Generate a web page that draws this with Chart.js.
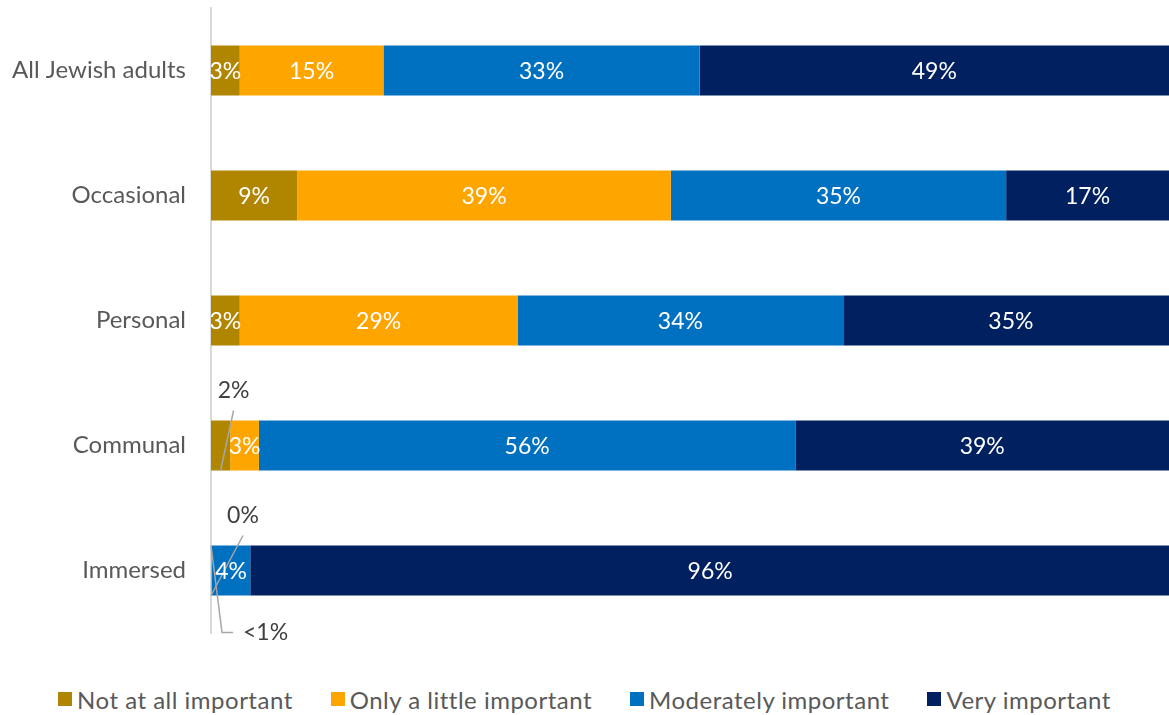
<!DOCTYPE html>
<html>
<head>
<meta charset="utf-8">
<script src="https://cdn.jsdelivr.net/npm/chart.js@4.4.1/dist/chart.umd.min.js"></script>
<style>
  body { margin: 0; background: #fff; }
  #wrap { position: relative; width: 1169px; height: 715px; }
  #chart { position: absolute; left: 0; top: 0; }
  #legend {
    position: absolute; left: 0; top: 685px; width: 1169px; height: 28px;
    display: flex; justify-content: center; align-items: center;
    font-family: Lato, sans-serif; font-size: 24px; letter-spacing: 0.5px; color: #595959;
  }
  .item { display: flex; align-items: center; margin: 0 19px; }
  .swatch { width: 14px; height: 14px; margin-right: 5px; }
</style>
</head>
<body>
<div id="wrap">
  <canvas id="chart" width="1169" height="650"></canvas>
  <div id="legend"></div>
</div>
<script>
const groups = ["All Jewish adults", "Occasional", "Personal", "Communal", "Immersed"];
const seriesNames = ["Not at all important", "Only a little important", "Moderately important", "Very important"];
const notAtAll   = [3, 9, 3, 2, 0];
const onlyLittle = [15, 39, 29, 3, 0.1];
const moderately = [33, 35, 34, 56, 4];
const veryImp    = [49, 17, 35, 39, 96];
const colors = ["#B08500", "#FFA500", "#0070C0", "#002060"];

const FONT = "Lato, sans-serif";

function pctText(v) {
  if (v > 0 && v < 1) return "<1%";
  return Math.round(v) + "%";
}

// small segments get a grey label placed outside with a leader line
// key: datasetIndex-rowIndex
const callouts = {
  "0-3": { from: "bottom", dx: 13 },
  "0-4": { from: "bottomLeft", dx: 32 },
  "1-4": { from: "topLeft", down: true }
};

const labelPlugin = {
  id: "segLabels",
  afterDatasetsDraw(chart) {
    const ctx = chart.ctx;
    ctx.save();
    ctx.font = "23px " + FONT;
    ctx.textBaseline = "middle";
    chart.data.datasets.forEach((ds, i) => {
      const meta = chart.getDatasetMeta(i);
      meta.data.forEach((el, j) => {
        const v = ds.data[j];
        const text = pctText(v);
        const half = el.height / 2;
        const left = Math.min(el.x, el.base);
        const c = callouts[i + "-" + j];
        if (!c) {
          ctx.fillStyle = "#ffffff";
          ctx.textAlign = "center";
          ctx.fillText(text, (el.x + el.base) / 2, el.y + 1);
          return;
        }
        ctx.strokeStyle = "#A6A6A6";
        ctx.lineWidth = 1.5;
        ctx.fillStyle = "#404040";
        ctx.beginPath();
        if (c.down) {
          const sx = left, sy = el.y - half;
          const ey = el.y + half + 37;
          ctx.moveTo(sx, sy);
          ctx.lineTo(sx + 11, ey);
          ctx.lineTo(sx + 22, ey);
          ctx.stroke();
          ctx.textAlign = "left";
          ctx.fillText(text, sx + 32, ey);
        } else {
          const sx = c.from === "bottom" ? (el.x + el.base) / 2 : left;
          const sy = el.y + half;
          const ex = sx + c.dx, ey = el.y - half - 10;
          ctx.moveTo(sx, sy);
          ctx.lineTo(ex, ey);
          ctx.stroke();
          ctx.textAlign = "center";
          ctx.fillText(text, ex, ey - 20);
        }
      });
    });
    ctx.restore();
  }
};

const seriesData = [notAtAll, onlyLittle, moderately, veryImp];

new Chart(document.getElementById("chart"), {
  type: "bar",
  data: {
    labels: groups,
    datasets: seriesNames.map((name, i) => ({
      label: name,
      data: seriesData[i],
      backgroundColor: colors[i],
      borderWidth: 0,
      categoryPercentage: 1,
      barPercentage: 0.4
    }))
  },
  options: {
    indexAxis: "y",
    responsive: false,
    animation: false,
    layout: { padding: { top: 8, bottom: 17, left: 0, right: 0 } },
    plugins: {
      legend: { display: false },
      tooltip: { enabled: false }
    },
    scales: {
      x: { stacked: true, min: 0, max: 100, display: false },
      y: {
        stacked: true,
        grid: { display: false, drawTicks: false },
        border: { display: true, color: "#D9D9D9", width: 2 },
        ticks: { color: "#595959", font: { family: FONT, size: 24 }, padding: 25 },
        afterFit(scale) {
          scale.width = 211;
          scale.paddingTop = 0;
          scale.paddingBottom = 0;
        }
      }
    }
  },
  plugins: [labelPlugin]
});

// legend row under the chart
const legend = document.getElementById("legend");
seriesNames.forEach((name, i) => {
  const item = document.createElement("div");
  item.className = "item";
  const sw = document.createElement("span");
  sw.className = "swatch";
  sw.style.background = colors[i];
  const label = document.createElement("span");
  label.textContent = name;
  item.appendChild(sw);
  item.appendChild(label);
  legend.appendChild(item);
});
</script>
</body>
</html>
